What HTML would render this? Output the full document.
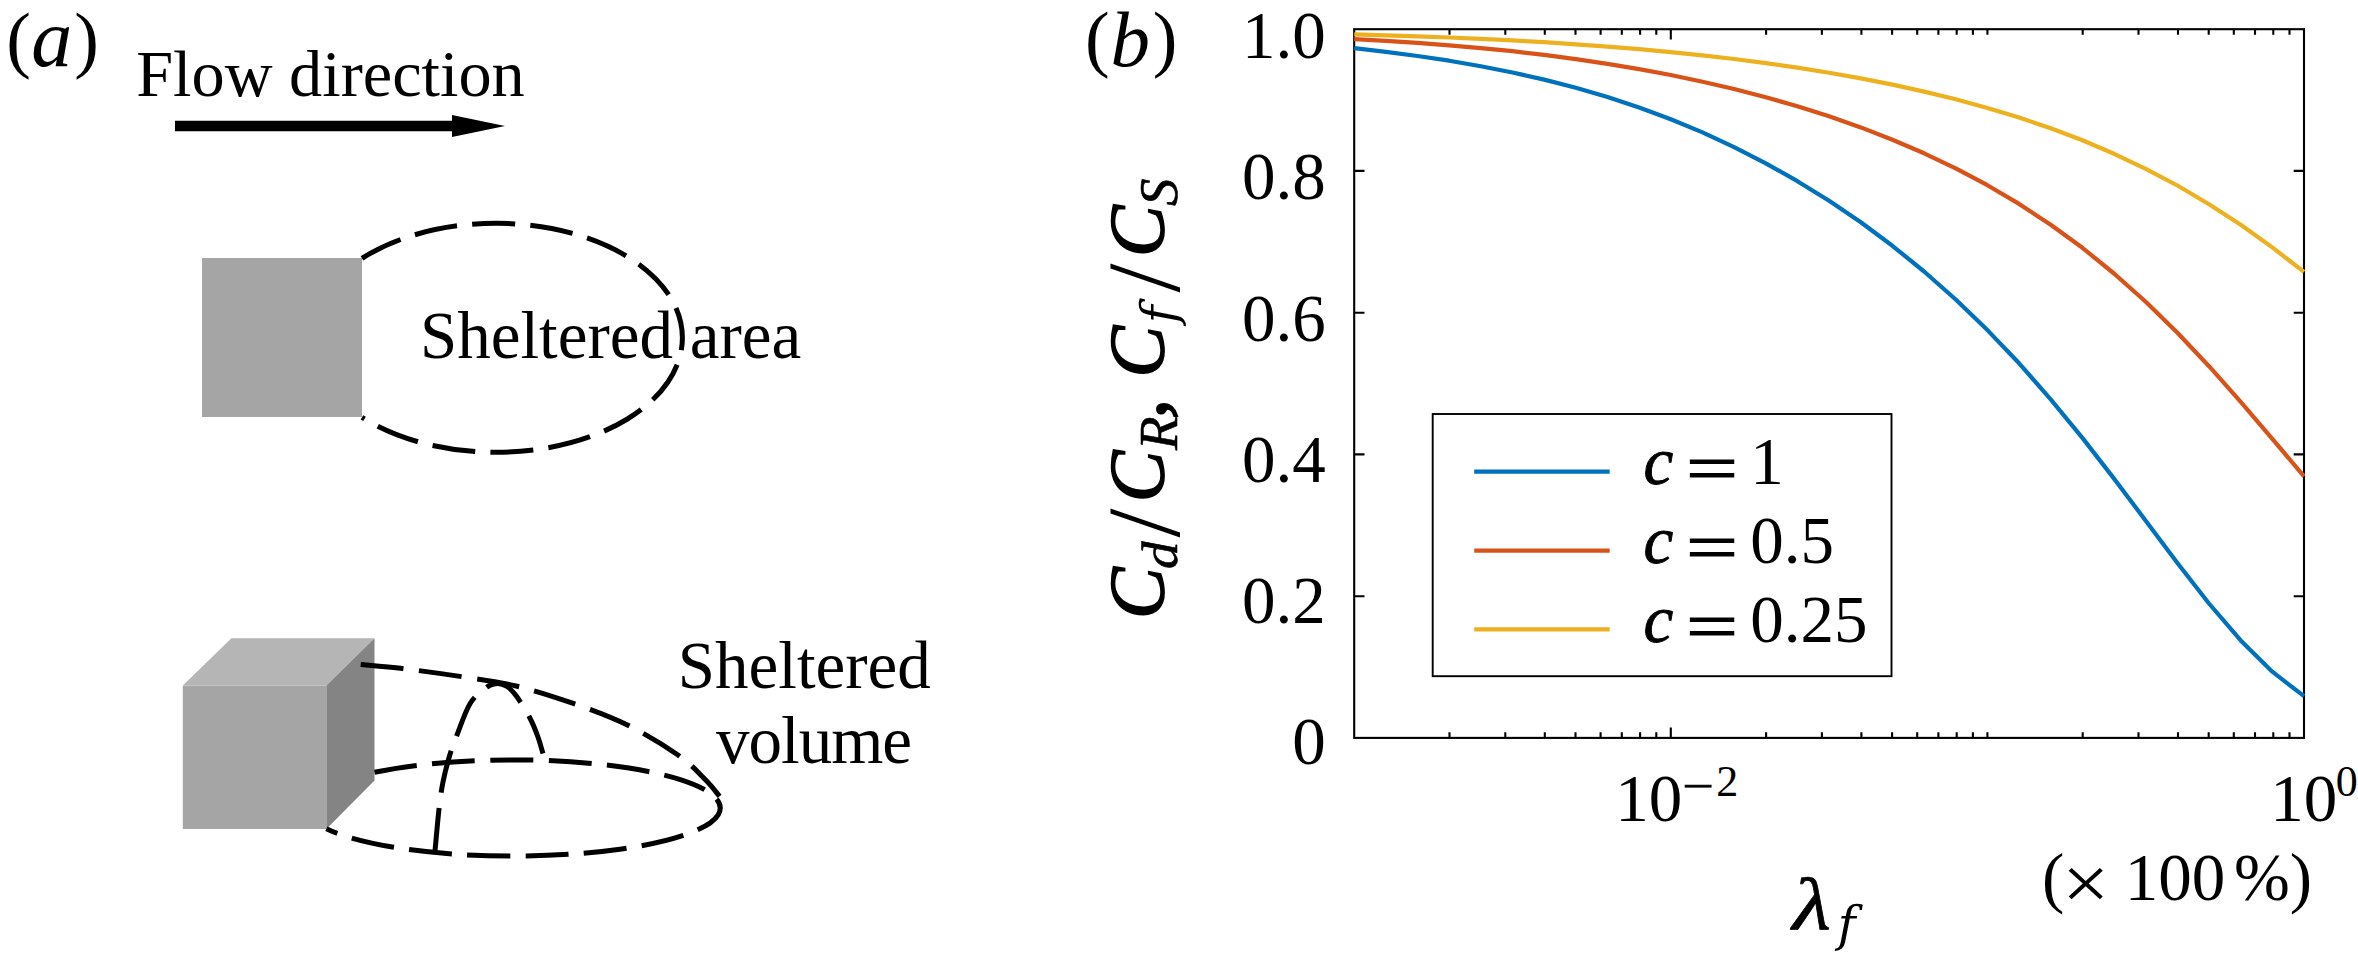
<!DOCTYPE html>
<html lang="en"><head><meta charset="utf-8"><title>Sheltering model figure</title>
<style>
html,body{margin:0;padding:0;background:#fff;}
body{width:2358px;height:963px;overflow:hidden;}
svg{display:block;}
text{font-family:"Liberation Serif","DejaVu Serif",serif;fill:#000;}
.t{font-size:67px;}
.lab{font-size:79px;}
.i{font-style:italic;}
.bi{font-style:italic;font-weight:bold;}
.dash{fill:none;stroke:#000;stroke-width:5;stroke-dasharray:43 15.6;}
.ax{fill:none;stroke:#000;stroke-width:2.1;}
.cv{fill:none;stroke-width:4.2;stroke-linejoin:round;}
</style></head><body>
<svg width="2358" height="963" viewBox="0 0 2358 963">
<rect x="0" y="0" width="2358" height="963" fill="#fff"/>

<g id="panel-a">
<text font-size="74" x="6.25" y="63.9">(</text>
<text class="i" font-size="82" x="31.3" y="65.5">a</text>
<text font-size="74" x="74.3" y="63.9">)</text>
<text class="t" style="font-size:66.3px" x="136.2" y="96">Flow direction</text>
<path d="M175 120.7H452V115L505 126L452 137V131.3H175Z" fill="#000"/>
<rect x="202" y="258" width="160" height="159" fill="#a5a5a5"/>
<path class="dash" style="stroke-dasharray:43 15.2" d="M362 258.3A186.3 114.5 0 1 1 362 417.3"/>
<text class="t" x="420" y="358">Sheltered area</text>
<polygon points="182.8,685.5 326.4,685.5 326.4,829 182.8,829" fill="#a5a5a5"/>
<polygon points="182.8,685.5 326.4,685.5 374.5,638.2 231.4,638.2" fill="#b5b5b5"/>
<polygon points="326.4,685.5 374.5,638.2 374.5,780.5 326.4,829" fill="#848484"/>
<path class="dash" d="M360.7 664.5 C367.7 665.2 385.7 666.6 402.6 668.6 C419.5 670.6 443.1 673.8 462.0 676.7 C480.9 679.6 497.3 681.5 516.0 686.0 C534.7 690.5 555.3 697.2 574.0 703.7 C592.7 710.2 610.7 716.8 628.0 725.3 C645.3 733.8 665.2 746.0 678.0 755.0 C690.8 764.0 698.1 772.4 705.0 779.3 C711.9 786.2 717.2 793.5 719.6 796.4"/>
<path class="dash" style="stroke-dasharray:43 15.3" d="M374.5 772.3A207 48.1 0 1 1 326.4 828.7"/>
<path class="dash" d="M435.0 850.8 C435.7 843.8 437.7 820.5 439.0 809.0 C440.3 797.5 441.2 791.0 443.0 782.0 C444.8 773.0 447.5 762.7 449.8 755.0 C452.1 747.3 453.2 744.5 456.6 736.0 C460.0 727.5 465.1 711.8 470.0 703.7 C474.9 695.6 481.8 690.9 486.3 687.5 C490.8 684.1 493.6 683.6 497.0 683.4 C500.4 683.2 503.8 684.5 507.0 686.5 C510.2 688.5 512.2 690.5 516.0 695.6 C519.8 700.7 525.9 710.5 529.5 717.2 C533.1 723.9 535.4 729.9 537.6 736.0 C539.9 742.1 542.1 750.7 543.0 753.6"/>
<text class="t" x="677.8" y="688">Sheltered</text>
<text class="t" x="716" y="762.7" textLength="196" lengthAdjust="spacing">volume</text>
</g>
<g id="panel-b">
<text font-size="74" x="1085.1" y="63.4">(</text>
<text class="lab i" x="1110.4" y="65.5">b</text>
<text font-size="74" x="1152.8" y="63.4">)</text>
<rect class="ax" x="1354.2" y="29.2" width="949.8" height="708.6999999999999"/>
<path class="ax" d="M1449.5 737.9v-5.6M1449.5 29.2v5.6M1505.3 737.9v-5.6M1505.3 29.2v5.6M1544.8 737.9v-5.6M1544.8 29.2v5.6M1575.5 737.9v-5.6M1575.5 29.2v5.6M1600.6 737.9v-5.6M1600.6 29.2v5.6M1621.8 737.9v-5.6M1621.8 29.2v5.6M1640.1 737.9v-5.6M1640.1 29.2v5.6M1656.3 737.9v-5.6M1656.3 29.2v5.6M1670.8 737.9v-10.3M1670.8 29.2v10.3M1766.1 737.9v-5.6M1766.1 29.2v5.6M1821.9 737.9v-5.6M1821.9 29.2v5.6M1861.4 737.9v-5.6M1861.4 29.2v5.6M1892.1 737.9v-5.6M1892.1 29.2v5.6M1917.2 737.9v-5.6M1917.2 29.2v5.6M1938.4 737.9v-5.6M1938.4 29.2v5.6M1956.7 737.9v-5.6M1956.7 29.2v5.6M1972.9 737.9v-5.6M1972.9 29.2v5.6M1987.4 737.9v-5.6M1987.4 29.2v5.6M2082.7 737.9v-5.6M2082.7 29.2v5.6M2138.5 737.9v-5.6M2138.5 29.2v5.6M2178.0 737.9v-5.6M2178.0 29.2v5.6M2208.7 737.9v-5.6M2208.7 29.2v5.6M2233.8 737.9v-5.6M2233.8 29.2v5.6M2255.0 737.9v-5.6M2255.0 29.2v5.6M2273.3 737.9v-5.6M2273.3 29.2v5.6M2289.5 737.9v-5.6M2289.5 29.2v5.6M1354.2 596.2h10.3M2304.0 596.2h-10.3M1354.2 454.4h10.3M2304.0 454.4h-10.3M1354.2 312.7h10.3M2304.0 312.7h-10.3M1354.2 170.9h10.3M2304.0 170.9h-10.3"/>
<clipPath id="clip"><rect x="1353.15" y="26.2" width="951.9" height="714.6999999999999"/></clipPath>
<polyline class="cv" clip-path="url(#clip)" stroke="#0072bd" points="1354.2,48.1 1385.9,51.8 1417.5,56.0 1449.2,60.7 1480.8,66.2 1512.5,72.5 1544.2,79.6 1575.8,87.8 1607.5,97.0 1639.1,107.5 1670.8,119.3 1702.5,132.4 1734.1,147.1 1765.8,163.3 1797.4,181.2 1829.1,200.8 1860.8,222.3 1892.4,245.8 1924.1,271.5 1955.7,299.5 1987.4,330.1 2019.1,363.3 2050.7,399.3 2082.4,437.9 2114.0,478.6 2145.7,520.7 2177.4,562.9 2209.0,603.5 2240.7,640.4 2272.3,671.7 2304.0,696.2"/>
<polyline class="cv" clip-path="url(#clip)" stroke="#d95319" points="1354.2,39.1 1385.9,40.8 1417.5,42.9 1449.2,45.3 1480.8,48.1 1512.5,51.2 1544.2,54.9 1575.8,59.1 1607.5,63.8 1639.1,69.1 1670.8,75.0 1702.5,81.7 1734.1,89.0 1765.8,97.2 1797.4,106.3 1829.1,116.3 1860.8,127.4 1892.4,139.7 1924.1,153.3 1955.7,168.4 1987.4,185.2 2019.1,203.9 2050.7,224.7 2082.4,247.8 2114.0,273.5 2145.7,301.8 2177.4,332.8 2209.0,366.2 2240.7,401.8 2272.3,438.8 2304.0,476.3"/>
<polyline class="cv" clip-path="url(#clip)" stroke="#edb120" points="1354.2,34.4 1385.9,35.3 1417.5,36.3 1449.2,37.5 1480.8,38.9 1512.5,40.4 1544.2,42.2 1575.8,44.3 1607.5,46.6 1639.1,49.1 1670.8,52.1 1702.5,55.4 1734.1,59.0 1765.8,63.1 1797.4,67.7 1829.1,72.7 1860.8,78.4 1892.4,84.6 1924.1,91.6 1955.7,99.3 1987.4,108.0 2019.1,117.6 2050.7,128.3 2082.4,140.3 2114.0,153.8 2145.7,168.8 2177.4,185.5 2209.0,204.2 2240.7,224.8 2272.3,247.4 2304.0,271.9"/>
<text class="t" text-anchor="end" x="1325.8" y="58.3">1.0</text>
<text class="t" text-anchor="end" x="1325.8" y="199.4">0.8</text>
<text class="t" text-anchor="end" x="1325.8" y="340.6">0.6</text>
<text class="t" text-anchor="end" x="1325.8" y="481.8">0.4</text>
<text class="t" text-anchor="end" x="1325.8" y="622.9">0.2</text>
<text class="t" text-anchor="end" x="1325.8" y="764.0">0</text>
<text class="t" x="1615.3" y="821">10</text>
<text x="1682.6" y="800.5" font-size="44" stroke="#000" stroke-width="0.7" textLength="31.5" lengthAdjust="spacingAndGlyphs">−</text>
<text x="1716.3" y="796.3" font-size="44">2</text>
<text class="t" x="2270.2" y="821">10</text>
<text x="2335.8" y="796.3" font-size="44">0</text>
<text class="t" x="2041.9" y="900">(</text>
<text transform="translate(2062.1 909.4) scale(1 0.9)" font-size="84">×</text>
<text class="t" x="2124.8" y="900">100</text>
<text class="t" x="2234" y="900">%)</text>
<text class="i" font-size="74" stroke="#000" stroke-width="0.7" transform="translate(1792.6 929) scale(1.2 1)">λ</text>
<text class="i" font-size="48.3" style="font-family:'DejaVu Serif',serif" x="1837.7" y="941.1">f</text>
<text class="i" font-size="77.5" stroke="#000" stroke-width="1.5" transform="translate(1162.8 619.1) rotate(-90)">C</text>
<text class="i" font-size="77.5" stroke="#000" stroke-width="1.5" transform="translate(1162.8 502.3) rotate(-90)">C</text>
<text class="i" font-size="77.5" stroke="#000" stroke-width="1.5" transform="translate(1162.8 377.6) rotate(-90)">C</text>
<text class="i" font-size="77.5" stroke="#000" stroke-width="1.5" transform="translate(1162.8 257.1) rotate(-90)">C</text>
<text class="i" font-size="55" stroke="#000" stroke-width="0.6" transform="translate(1176.6 568.9) rotate(-90) scale(1 0.92)">d</text>
<text class="i" font-size="55" stroke="#000" stroke-width="0.6" transform="translate(1176.6 450.1) rotate(-90)">R</text>
<text class="i" font-size="48.3" transform="translate(1176.4 323.3) rotate(-90)" style="font-family:'DejaVu Serif',serif">f</text>
<text class="i" font-size="55" stroke="#000" stroke-width="0.6" transform="translate(1176.6 205.9) rotate(-90)">S</text>
<text class="i" font-size="78" stroke="#000" stroke-width="2.0" transform="translate(1165.0 418.6) rotate(-90)">,</text>
<text class="" font-size="104" transform="translate(1179.0 537.6) rotate(-90)">/</text>
<text class="" font-size="104" transform="translate(1179.0 292.4) rotate(-90)">/</text>
<rect x="1432.7" y="414" width="458.8" height="262.2" fill="#fff" stroke="#000" stroke-width="1.9"/>
<path class="cv" stroke="#0072bd" d="M1474.2 471.7H1609.7"/>
<text class="t i" stroke="#000" stroke-width="0.9" x="1643.4" y="483.7">c</text>
<text class="t" x="1686" y="490.9" stroke="#000" stroke-width="1.1" textLength="52" lengthAdjust="spacingAndGlyphs">=</text>
<text class="t" x="1750.2" y="483.7">1</text>
<path class="cv" stroke="#d95319" d="M1474.2 550.6H1609.7"/>
<text class="t i" stroke="#000" stroke-width="0.9" x="1643.4" y="562.6">c</text>
<text class="t" x="1686" y="569.8000000000001" stroke="#000" stroke-width="1.1" textLength="52" lengthAdjust="spacingAndGlyphs">=</text>
<text class="t" x="1750.2" y="562.6">0.5</text>
<path class="cv" stroke="#edb120" d="M1474.2 629.4H1609.7"/>
<text class="t i" stroke="#000" stroke-width="0.9" x="1643.4" y="641.8">c</text>
<text class="t" x="1686" y="649.0" stroke="#000" stroke-width="1.1" textLength="52" lengthAdjust="spacingAndGlyphs">=</text>
<text class="t" x="1750.2" y="641.8">0.25</text>
</g>
</svg></body></html>
